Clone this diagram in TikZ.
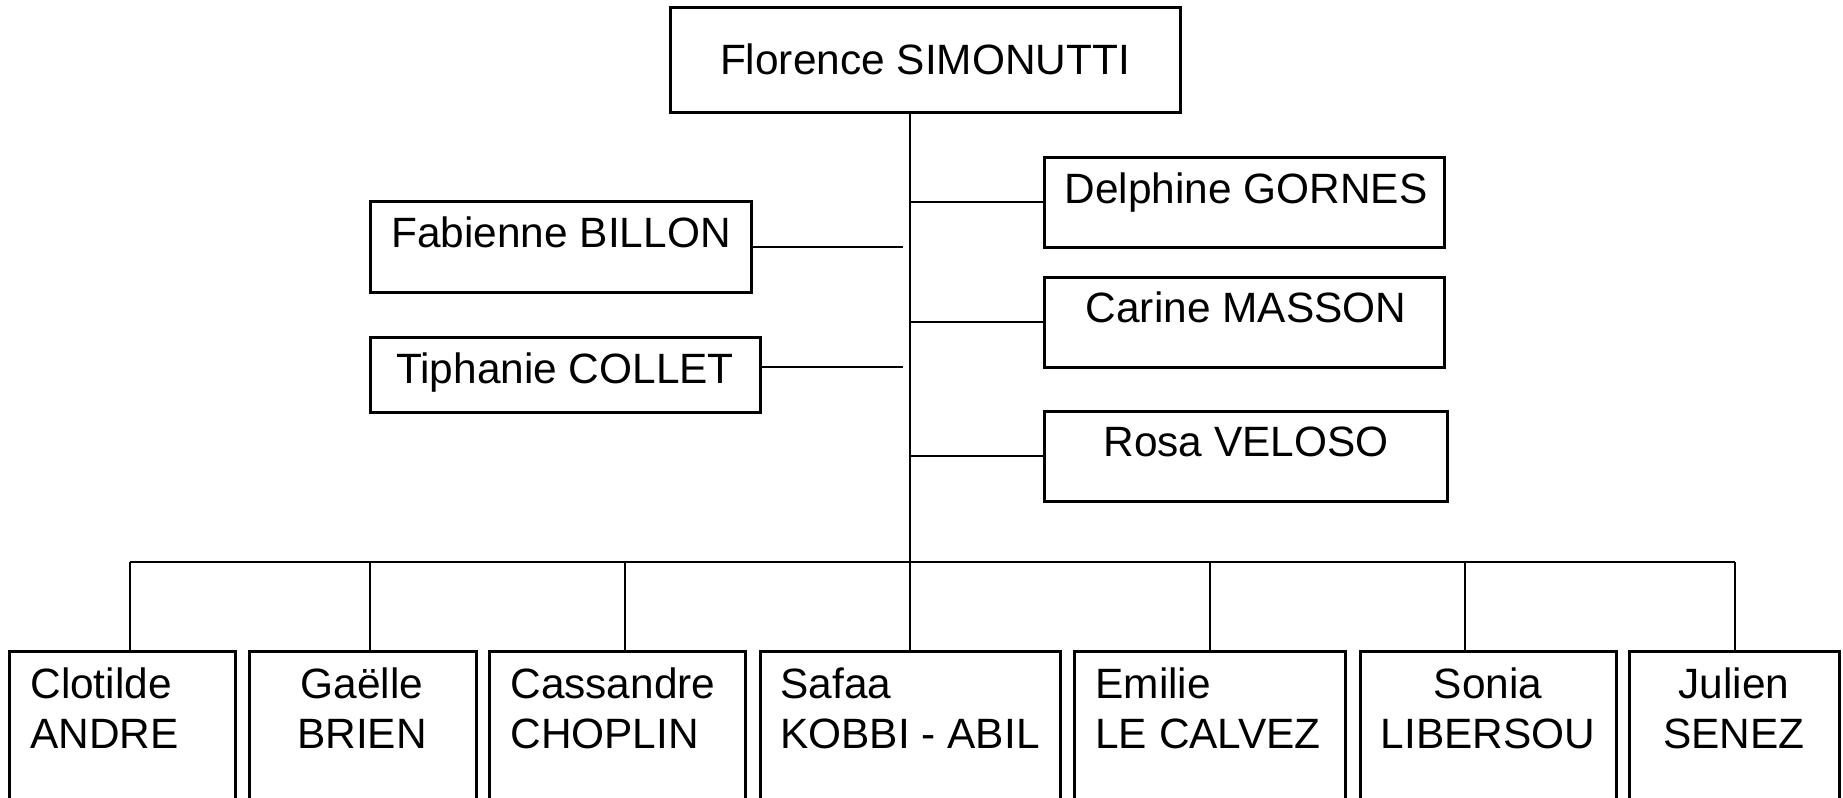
\documentclass[tikz,border=0pt]{standalone}
\usepackage{fontspec}
\setmainfont{Liberation Sans}
\usetikzlibrary{fit}
\begin{document}
\begin{tikzpicture}[x=0.5pt,y=-0.5pt,
  box/.style={draw=black,line width=1.5pt,inner sep=0pt,fill=white},
  link/.style={draw=black,line width=1pt},
  lbl/.style={inner sep=0pt,font=\fontsize{21.2}{25}\selectfont}]
\useasboundingbox (0,0) rectangle (1843,798);
\clip (0,0) rectangle (1843,798);
% top box
\node[box,fit={(670,7) (1180,112)}] (flo) {};
\node[lbl,anchor=base] (tflo) at (925,74) {Florence SIMONUTTI};
% right boxes
\node[box,fit={(1044,157) (1444,247)}] (del) {};
\node[lbl,anchor=base] (tdel) at (1246,203) {Delphine GORNES};
\node[box,fit={(1044,277) (1444,367)}] (car) {};
\node[lbl,anchor=base] (tcar) at (1246,322) {Carine MASSON};
\node[box,fit={(1044,411) (1447,501)}] (ros) {};
\node[lbl,anchor=base] (tros) at (1246,456) {Rosa VELOSO};
% left boxes
\node[box,fit={(370,201) (751,292)}] (fab) {};
\node[lbl,anchor=base] (tfab) at (561,247) {Fabienne BILLON};
\node[box,fit={(370,337) (760,412)}] (tip) {};
\node[lbl,anchor=base] (ttip) at (565,383) {Tiphanie COLLET};
% bottom boxes
\node[box,fit={(9,651) (235,840)}] (clo) {};
\node[lbl,anchor=base west,align=left] (tclo) at (30,748) {Clotilde\\ANDRE};
\node[box,fit={(249,651) (476,840)}] (gae) {};
\node[lbl,anchor=base,align=center] (tgae) at (362,748) {Gaëlle\\BRIEN};
\node[box,fit={(489,651) (745,840)}] (cas) {};
\node[lbl,anchor=base west,align=left] (tcas) at (510,748) {Cassandre\\CHOPLIN};
\node[box,fit={(760,651) (1060,840)}] (saf) {};
\node[lbl,anchor=base west,align=left] (tsaf) at (780,748) {Safaa\\KOBBI - ABIL};
\node[box,fit={(1074,651) (1345,840)}] (emi) {};
\node[lbl,anchor=base west,align=left] (temi) at (1095,748) {Emilie\\LE CALVEZ};
\node[box,fit={(1360,651) (1616,840)}] (son) {};
\node[lbl,anchor=base,align=center] (tson) at (1488,748) {Sonia\\LIBERSOU};
\node[box,fit={(1629,651) (1839,840)}] (jul) {};
\node[lbl,anchor=base,align=center] (tjul) at (1734,748) {Julien\\SENEZ};
% coordinates
\coordinate (m) at (910,562);
\coordinate (gap) at (903,0);
\coordinate (tipc) at (903,367);
\coordinate (b1) at (130,562);
\coordinate (b2) at (370,562);
\coordinate (b3) at (624.5,562);
\coordinate (b5) at (1210,562);
\coordinate (b6) at (1465,562);
\coordinate (b7) at (1735,562);
% connectors
\draw[link] (m |- flo.south) -- (m);
\draw[link] (del.west) -- (del.west -| m);
\draw[link] (car.west) -- (car.west -| m);
\draw[link] (ros.west) -- (ros.west -| m);
\draw[link] (fab.east) -- (fab.east -| gap);
\draw[link] (tipc -| tip.east) -- (tipc);
\draw[link] (b1) -- (b7);
\draw[link] (b1) -- (b1 |- clo.north);
\draw[link] (b2) -- (b2 |- gae.north);
\draw[link] (b3) -- (b3 |- cas.north);
\draw[link] (m) -- (m |- saf.north);
\draw[link] (b5) -- (b5 |- emi.north);
\draw[link] (b6) -- (b6 |- son.north);
\draw[link] (b7) -- (b7 |- jul.north);
\end{tikzpicture}
\end{document}
